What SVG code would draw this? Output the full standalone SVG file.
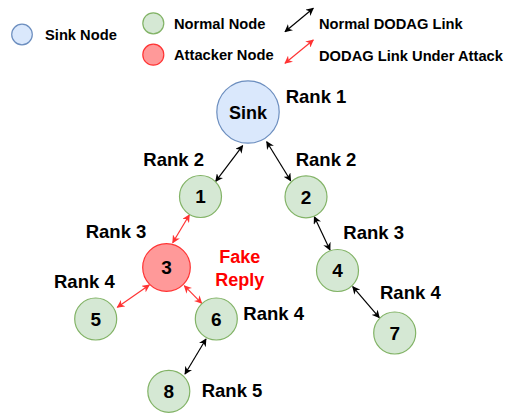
<svg xmlns="http://www.w3.org/2000/svg" width="511" height="416" viewBox="0 0 511 416">
  <defs>
    <marker id="ah" viewBox="0 0 10 10" refX="9" refY="5" markerWidth="8" markerHeight="8" markerUnits="userSpaceOnUse" orient="auto-start-reverse">
      <path d="M0,0 L10,5 L0,10 L3,5 Z" fill="#000"/>
    </marker>
    <marker id="ahr" viewBox="0 0 10 10" refX="9" refY="5" markerWidth="8" markerHeight="8" markerUnits="userSpaceOnUse" orient="auto-start-reverse">
      <path d="M0,0 L10,5 L0,10 L3,5 Z" fill="#ff3333"/>
    </marker>
  </defs>
  <style>
    text { font-family: "Liberation Sans", Arial, sans-serif; font-weight: bold; fill: #000; }
    .lg { font-size: 14.7px; }
    .rk { font-size: 18.5px; }
    .num { font-size: 19px; text-anchor: middle; }
    .sink { fill: #dae8fc; stroke: #6c8ebf; stroke-width: 1.2; }
    .norm { fill: #d5e8d4; stroke: #82b366; stroke-width: 1.2; }
    .atk { fill: #ff9999; stroke: #ff3333; stroke-width: 1.2; }
    .lk { stroke: #000; stroke-width: 1.2; fill: none; marker-start: url(#ah); marker-end: url(#ah); }
    .lka { stroke: #ff3333; stroke-width: 1.2; fill: none; marker-start: url(#ahr); marker-end: url(#ahr); }
    .fake { fill: #ff0000; font-size: 18px; text-anchor: middle; }
  </style>

  <!-- legend -->
  <g id="legend">
    <circle class="sink" cx="22" cy="34.5" r="10.3"/>
    <text class="lg" x="45" y="40">Sink Node</text>
    <circle class="norm" cx="153.3" cy="23.3" r="10.5"/>
    <text class="lg" x="174" y="28.5">Normal Node</text>
    <circle class="atk" cx="153.3" cy="54.7" r="10.5"/>
    <text class="lg" x="174" y="60.3">Attacker Node</text>
    <line class="lk" x1="285" y1="31.7" x2="313.3" y2="8.3"/>
    <text class="lg" x="319" y="28.5">Normal DODAG Link</text>
    <line class="lka" x1="285" y1="63.3" x2="313.3" y2="40"/>
    <text class="lg" x="319" y="60.5">DODAG Link Under Attack</text>
  </g>

  <!-- connectors -->
  <g id="links">
    <line class="lk" x1="242.7" y1="145.7" x2="215.7" y2="181.3"/>
    <line class="lk" x1="266.7" y1="141.7" x2="290.7" y2="180.7"/>
    <line class="lka" x1="189.3" y1="215" x2="172.7" y2="242.7"/>
    <line class="lka" x1="149.3" y1="285" x2="117.3" y2="307.3"/>
    <line class="lka" x1="184.3" y1="285.7" x2="201.7" y2="303.3"/>
    <line class="lk" x1="206" y1="339" x2="185" y2="374"/>
    <line class="lk" x1="314.3" y1="216.7" x2="330" y2="250"/>
    <line class="lk" x1="352.7" y1="286.7" x2="379.3" y2="317.7"/>
  </g>

  <!-- nodes -->
  <g id="node-sink">
    <circle class="sink" cx="248" cy="112" r="31.2"/>
    <text class="num" x="248" y="118.5" style="font-size:18px">Sink</text>
    <text class="rk" x="285.7" y="102.7">Rank 1</text>
  </g>
  <g id="node-1">
    <circle class="norm" cx="200.5" cy="196.5" r="21"/>
    <text class="num" x="200.5" y="203.3">1</text>
    <text class="rk" x="143.3" y="165.7">Rank 2</text>
  </g>
  <g id="node-2">
    <circle class="norm" cx="306" cy="196.8" r="21"/>
    <text class="num" x="306" y="203.6">2</text>
    <text class="rk" x="295.7" y="165.7">Rank 2</text>
  </g>
  <g id="node-3">
    <circle class="atk" cx="166.5" cy="267.5" r="23.8"/>
    <text class="num" x="166.5" y="274.3">3</text>
    <text class="rk" x="85.7" y="238.3">Rank 3</text>
    <text class="fake" x="239.7" y="262.7">Fake</text>
    <text class="fake" x="239.7" y="285.7">Reply</text>
  </g>
  <g id="node-4">
    <circle class="norm" cx="337.5" cy="270.5" r="21"/>
    <text class="num" x="337.5" y="277.3">4</text>
    <text class="rk" x="343.3" y="239">Rank 3</text>
  </g>
  <g id="node-5">
    <circle class="norm" cx="95.7" cy="319" r="21"/>
    <text class="num" x="95.7" y="325.8">5</text>
    <text class="rk" x="54" y="287.7">Rank 4</text>
  </g>
  <g id="node-6">
    <circle class="norm" cx="216.3" cy="319" r="21"/>
    <text class="num" x="216.3" y="325.8">6</text>
    <text class="rk" x="243.3" y="320">Rank 4</text>
  </g>
  <g id="node-7">
    <circle class="norm" cx="394.7" cy="333" r="21"/>
    <text class="num" x="394.7" y="339.8">7</text>
    <text class="rk" x="380" y="299.3">Rank 4</text>
  </g>
  <g id="node-8">
    <circle class="norm" cx="168.8" cy="391.3" r="21"/>
    <text class="num" x="168.8" y="398.1">8</text>
    <text class="rk" x="201.7" y="396.7">Rank 5</text>
  </g>
</svg>
